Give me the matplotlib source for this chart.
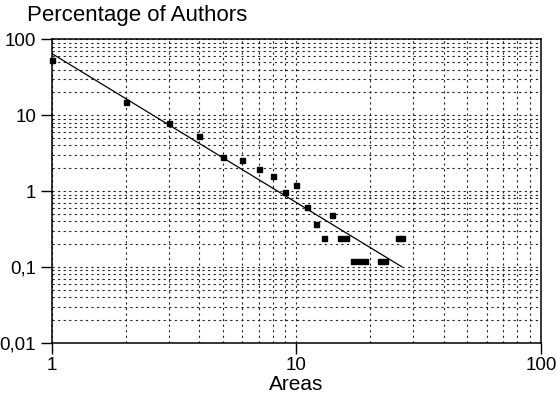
import matplotlib
matplotlib.use("Agg")
import matplotlib.pyplot as plt
from matplotlib.ticker import FixedLocator, FixedFormatter, LogLocator, NullFormatter

plt.rcParams['font.family'] = ['Liberation Sans', 'DejaVu Sans']

# areas vs percentage of authors
areas = [1, 2, 3, 4, 5, 6, 7, 8, 9, 10, 11, 12, 13, 14, 15, 16, 17, 18, 19, 22, 23, 26, 27]
percent = [54, 15, 7.8, 5.4, 2.8, 2.6, 1.95, 1.58, 0.98, 1.22, 0.61, 0.37, 0.24, 0.49,
           0.24, 0.24, 0.12, 0.12, 0.12, 0.12, 0.12, 0.24, 0.24]

# fitted power law line (end points)
fit_x = [1, 27]
fit_y = [65, 0.1]

yticks = [0.01, 0.1, 1, 10, 100]
ylabels = ['0,01', '0,1', '1', '10', '100']
xticks = [1, 10, 100]
xlabels = ['1', '10', '100']

fig = plt.figure(figsize=(5.56, 4.07), dpi=100)
ax = fig.add_axes([0.0935, 0.158, 0.8795, 0.745])

ax.set_xscale('log')
ax.set_yscale('log')
ax.set_xlim(1, 100)
ax.set_ylim(0.01, 100)

ax.plot(fit_x, fit_y, color='black', linewidth=0.9, zorder=3)
ax.plot(areas, percent, linestyle='none', marker='s', markersize=3.6,
        color='black', zorder=4, clip_on=False)

ax.xaxis.set_major_locator(FixedLocator(xticks))
ax.xaxis.set_major_formatter(FixedFormatter(xlabels))
ax.yaxis.set_major_locator(FixedLocator(yticks))
ax.yaxis.set_major_formatter(FixedFormatter(ylabels))
ax.xaxis.set_minor_locator(LogLocator(base=10, subs=range(2, 10)))
ax.yaxis.set_minor_locator(LogLocator(base=10, subs=range(2, 10)))
ax.xaxis.set_minor_formatter(NullFormatter())
ax.yaxis.set_minor_formatter(NullFormatter())

ax.grid(which='both', color='#222222', linestyle=(0, (2, 3)), linewidth=0.8)
ax.tick_params(which='minor', length=0)
ax.tick_params(which='major', direction='out', length=8, width=1,
               labelsize=13.5, colors='black')
ax.tick_params(axis='x', pad=2)

for s in ax.spines.values():
    s.set_linewidth(1.1)

ax.set_xlabel('Areas', fontsize=15, labelpad=1)
fig.text(0.048, 0.963, 'Percentage of Authors', fontsize=16, ha='left', va='center')

fig.savefig('out.png', dpi=100)
